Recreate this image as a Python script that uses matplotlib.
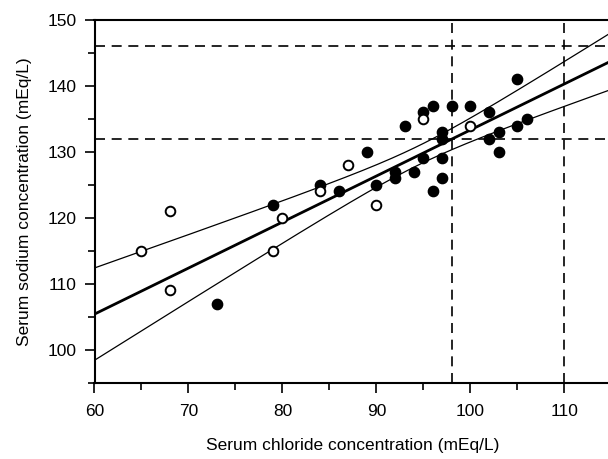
import numpy as np
import matplotlib
matplotlib.use("Agg")
import matplotlib.pyplot as plt
from matplotlib.ticker import MultipleLocator

plt.rcParams['font.family'] = ['Liberation Sans', 'DejaVu Sans']

# Data points (filled and open circles)
filled_x = [73, 79, 84, 86, 89, 90, 92, 92, 93, 94, 95, 95, 96, 96, 97, 97, 97, 97,
            98, 100, 102, 102, 103, 103, 105, 105, 106]
filled_y = [107, 122, 125, 124, 130, 125, 127, 126, 134, 127, 136, 129, 137, 124, 133,
            132, 129, 126, 137, 137, 136, 132, 133, 130, 141, 134, 135]
open_x = [65, 68, 68, 79, 80, 84, 87, 90, 95, 100]
open_y = [115, 121, 109, 115, 120, 124, 128, 122, 135, 134]

# Reference (dashed) lines
ref_x = [98, 110]
ref_y = [132, 146]

# Regression line and 95% confidence band
fit_intercept = 63.52
fit_slope = 0.698
band_x0 = 94.5        # centre of the band (narrowest point)
band_c0 = 2.09        # squared half-width at the centre
band_c1 = 0.0394      # growth of squared half-width

W, H = 608, 459
fig = plt.figure(figsize=(W/100, H/100), dpi=100)
left, right = 94.5, 94.5 + 55 * 9.396
top, bottom = 20, 382.7
ax = fig.add_axes([left/W, (H-bottom)/H, (right-left)/W, (bottom-top)/H])

xs = np.linspace(60, 115, 300)
yh = fit_intercept + fit_slope * xs
hw = np.sqrt(band_c0 + band_c1 * (xs - band_x0)**2)
ax.plot(xs, yh, color='black', lw=2.0, zorder=2)
ax.plot(xs, yh + hw, color='black', lw=0.9, zorder=2)
ax.plot(xs, yh - hw, color='black', lw=0.9, zorder=2)

for xv in ref_x:
    ax.axvline(xv, color='black', lw=1.2, dashes=(6, 4), zorder=1)
for yv in ref_y:
    ax.axhline(yv, color='black', lw=1.2, dashes=(6, 4), zorder=1)

ax.scatter(filled_x, filled_y, s=55, c='black', edgecolors='black', linewidths=1.0, zorder=3)
ax.scatter(open_x, open_y, s=48, c='white', edgecolors='black', linewidths=1.4, zorder=3)

ax.set_xlim(60, 115)
ax.set_ylim(95, 150)
ax.xaxis.set_major_locator(MultipleLocator(10))
ax.xaxis.set_minor_locator(MultipleLocator(5))
ax.yaxis.set_major_locator(MultipleLocator(10))
ax.yaxis.set_minor_locator(MultipleLocator(5))
ax.tick_params(which='major', direction='out', length=7, width=1.2, labelsize=12.5, pad=6)
ax.tick_params(axis='x', which='major', pad=8)
ax.tick_params(which='minor', direction='out', length=5, width=1.2)
for sp in ax.spines.values():
    sp.set_linewidth(1.5)

ax.set_xlabel('Serum chloride concentration (mEq/L)', fontsize=12.5, labelpad=14)
ax.set_ylabel('Serum sodium concentration (mEq/L)', fontsize=12.5, labelpad=11)

fig.savefig('out.png', dpi=100)
